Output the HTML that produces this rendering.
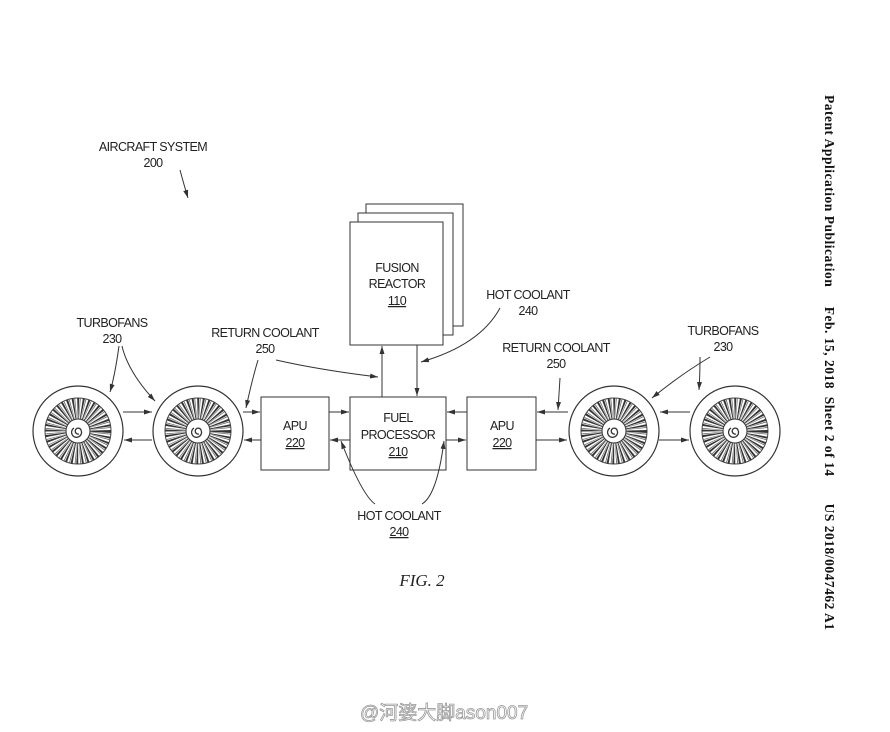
<!DOCTYPE html>
<html><head><meta charset="utf-8"><style>
body{margin:0;background:#fff}
svg{display:block}
text{font-family:"Liberation Sans",sans-serif;font-size:12.5px;fill:#222;letter-spacing:-0.6px}
</style></head><body>
<svg width="890" height="732" viewBox="0 0 890 732" xmlns="http://www.w3.org/2000/svg">
<defs>
<marker id="a" markerWidth="8" markerHeight="6" refX="8" refY="3" orient="auto" markerUnits="userSpaceOnUse"><path d="M0,0.5 L8,3 L0,5.5 Z" fill="#333"/></marker>
<g id="fan">
<circle r="45" fill="#fff" stroke="#333" stroke-width="1.2"/>
<circle r="33" fill="none" stroke="#444" stroke-width="1"/>
<circle r="22.5" fill="none" stroke="#333" stroke-width="21" stroke-dasharray="1.4 2.5"/>
<circle r="22.5" fill="none" stroke="#666" stroke-width="21" stroke-dasharray="0.6 3.3" stroke-dashoffset="2"/>
<circle r="12" fill="#fff" stroke="#333" stroke-width="1"/>
<path d="M1,3 A3,3 0 1 1 3,-1 A5,5 0 1 1 -4,-3" fill="none" stroke="#333" stroke-width="1.3"/>
</g>
</defs>
<g stroke="#333" stroke-width="1" fill="none">
<rect x="366" y="204" width="97" height="122" fill="#fff"/>
<rect x="358" y="213" width="95" height="122" fill="#fff"/>
<rect x="350" y="222" width="93" height="123" fill="#fff"/>
<rect x="261" y="397" width="68" height="73" fill="#fff"/>
<rect x="350" y="397" width="96" height="73" fill="#fff"/>
<rect x="467" y="397" width="69" height="73" fill="#fff"/>
<line x1="382" y1="397" x2="382" y2="346" marker-end="url(#a)"/>
<line x1="417" y1="345" x2="417" y2="396" marker-end="url(#a)"/>
<line x1="123" y1="412" x2="152" y2="412" marker-end="url(#a)"/>
<line x1="152" y1="440" x2="124" y2="440" marker-end="url(#a)"/>
<line x1="243" y1="412" x2="260" y2="412" marker-end="url(#a)"/>
<line x1="261" y1="440" x2="244" y2="440" marker-end="url(#a)"/>
<line x1="329" y1="412" x2="349" y2="412" marker-end="url(#a)"/>
<line x1="350" y1="440" x2="330" y2="440" marker-end="url(#a)"/>
<line x1="467" y1="412" x2="447" y2="412" marker-end="url(#a)"/>
<line x1="446" y1="440" x2="466" y2="440" marker-end="url(#a)"/>
<line x1="568" y1="412" x2="537" y2="412" marker-end="url(#a)"/>
<line x1="536" y1="440" x2="567" y2="440" marker-end="url(#a)"/>
<line x1="690" y1="412" x2="660" y2="412" marker-end="url(#a)"/>
<line x1="659" y1="440" x2="689" y2="440" marker-end="url(#a)"/>
<path d="M180,170 Q184,185 188,198" marker-end="url(#a)"/>
<path d="M119,346 Q115,375 110,392" marker-end="url(#a)"/>
<path d="M122,346 Q128,372 155,401" marker-end="url(#a)"/>
<path d="M258,360 Q252,380 246,408" marker-end="url(#a)"/>
<path d="M276,360 Q320,370 378,377" marker-end="url(#a)"/>
<path d="M500,308 Q480,345 421,362" marker-end="url(#a)"/>
<path d="M375,504 Q362,495 341,441" marker-end="url(#a)"/>
<path d="M422,504 Q437,495 444,441" marker-end="url(#a)"/>
<path d="M560,378 Q559,395 558,410" marker-end="url(#a)"/>
<path d="M710,357 Q680,375 652,398" marker-end="url(#a)"/>
<path d="M700,357 Q700,375 699,390" marker-end="url(#a)"/>
</g>
<use href="#fan" x="78" y="431"/>
<use href="#fan" x="198" y="431"/>
<use href="#fan" x="614" y="431"/>
<use href="#fan" x="735" y="431"/>
<g text-anchor="middle">
<text x="153" y="151">AIRCRAFT SYSTEM</text><text x="153" y="167">200</text>
<text x="397" y="272">FUSION</text><text x="397" y="288">REACTOR</text><text x="397" y="305" text-decoration="underline">110</text>
<text x="528" y="299">HOT COOLANT</text><text x="528" y="315">240</text>
<text x="112" y="327">TURBOFANS</text><text x="112" y="343">230</text>
<text x="265" y="337">RETURN COOLANT</text><text x="265" y="353">250</text>
<text x="556" y="352">RETURN COOLANT</text><text x="556" y="368">250</text>
<text x="723" y="335">TURBOFANS</text><text x="723" y="351">230</text>
<text x="295" y="430">APU</text><text x="295" y="447" text-decoration="underline">220</text>
<text x="398" y="422">FUEL</text><text x="398" y="439">PROCESSOR</text><text x="398" y="456" text-decoration="underline">210</text>
<text x="502" y="430">APU</text><text x="502" y="447" text-decoration="underline">220</text>
<text x="399" y="520">HOT COOLANT</text><text x="399" y="536" text-decoration="underline">240</text>
<text x="422" y="586" style="font-family:'Liberation Serif',serif;font-style:italic;font-size:17px;letter-spacing:0">FIG.  2</text>
</g>
<text transform="translate(825,95) rotate(90)" textLength="535" lengthAdjust="spacing" style="font-family:'Liberation Serif',serif;font-weight:bold;font-size:13.5px;fill:#111;letter-spacing:0" xml:space="preserve">Patent Application Publication     Feb. 15, 2018  Sheet 2 of 14       US 2018/0047462 A1</text>
<text x="360" y="719" style="font-family:'Liberation Sans','Noto Sans CJK SC',sans-serif;font-size:19px;fill:#fff;stroke:#999;stroke-width:0.8;letter-spacing:0">@河婆大脚ason007</text>
</svg>
</body></html>
